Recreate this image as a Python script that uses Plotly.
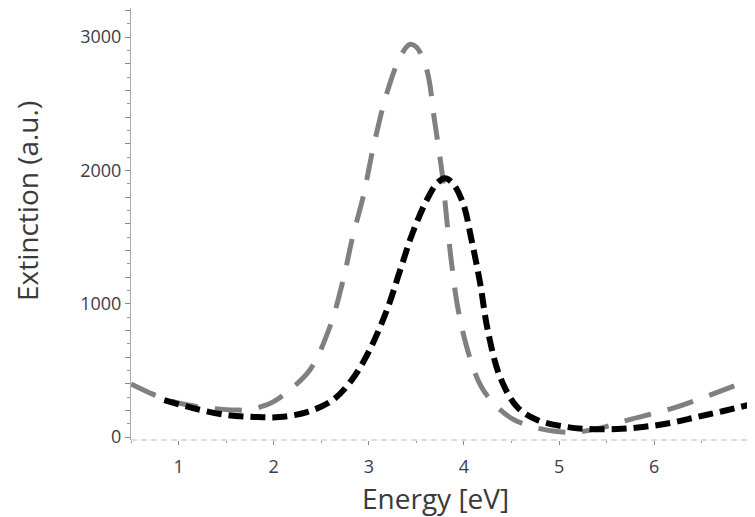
import plotly.graph_objects as go

# Data
black_x = [0.85, 1.15, 1.5, 1.8, 2.06, 2.35, 2.62, 2.82, 3.0, 3.19, 3.33, 3.46, 3.61, 3.72, 3.8,
           3.88, 3.99, 4.08, 4.17, 4.25, 4.38, 4.56, 4.77, 5.04, 5.3, 5.61, 5.88, 6.17, 6.45, 6.73, 7.06]
black_y = [277, 217, 165, 150, 150, 187, 277, 427, 640, 952, 1252, 1530, 1778, 1905, 1940,
           1905, 1755, 1478, 1155, 802, 450, 225, 128, 80, 60, 60, 75, 105, 150, 195, 252]

gray_x = [0.5, 0.7, 0.9, 1.1, 1.35, 1.6, 1.75, 1.9, 2.0, 2.14, 2.38, 2.59, 2.73, 2.83, 2.94, 3.05,
          3.19, 3.33, 3.43, 3.5, 3.61, 3.69, 3.77, 3.82, 3.87, 3.94, 4.06, 4.18, 4.31, 4.5, 4.73,
          5.0, 5.19, 5.45, 5.72, 6.2, 6.67, 7.06]
gray_y = [397, 330, 275, 240, 215, 202, 205, 235, 265, 337, 502, 825, 1177, 1500, 1800, 2180,
          2580, 2850, 2945, 2925, 2753, 2378, 1980, 1628, 1305, 952, 600, 380, 255, 140, 75,
          40, 37, 70, 127, 217, 337, 442]

y_tick_vals = list(range(0, 3201, 200))
y_tick_text = [str(v) if v % 1000 == 0 else "" for v in y_tick_vals]
x_tick_vals = [1, 2, 3, 4, 5, 6]
x_tick_text = ["1", "2", "3", "4", "5", "6"]

FONT = "Open Sans"
fig = go.Figure()
fig.add_trace(go.Scatter(x=gray_x, y=gray_y, mode="lines", line_shape="spline",
                         line=dict(color="#808080", width=5, dash="27px,17px"),
                         showlegend=False, hoverinfo="skip"))
fig.add_trace(go.Scatter(x=black_x, y=black_y, mode="lines", line_shape="spline",
                         line=dict(color="#000000", width=6, dash="15px,7px"),
                         showlegend=False, hoverinfo="skip"))

fig.update_layout(
    width=747, height=509,
    margin=dict(l=123, r=0, t=0, b=77),
    paper_bgcolor="white", plot_bgcolor="white",
    font=dict(family=FONT, color="#3c3c48"),
    xaxis=dict(range=[0.5, 7.06], showgrid=False, zeroline=False, showline=False,
               tickmode="array", tickvals=x_tick_vals, ticktext=x_tick_text,
               ticks="outside", ticklen=4, tickcolor="#888", tickwidth=1,
               tickfont=dict(size=18, family=FONT, color="#3c3c48"),
               ticklabelstandoff=6,
               minor=dict(tickmode="array", tickvals=[0.5, 1.5, 2.5, 3.5, 4.5, 5.5, 6.5],
                          ticks="outside", ticklen=2, tickcolor="#999")),
    yaxis=dict(range=[-22.5, 3217.5], showgrid=False, zeroline=False,
               showline=True, linecolor="#aaaaaa", linewidth=1,
               tickmode="array", tickvals=y_tick_vals, ticktext=y_tick_text,
               ticks="outside", ticklen=5, tickcolor="#888", tickwidth=1,
               tickfont=dict(size=18, family=FONT, color="#3c3c48"),
               minor=dict(dtick=100, tick0=0, ticks="outside", ticklen=3, tickcolor="#999")),
    shapes=[dict(type="line", xref="paper", yref="paper", x0=0, x1=1, y0=0, y1=0,
                 line=dict(color="#bbbbbb", width=1, dash="6px,4px"))],
    annotations=[
        dict(text="Energy [eV]", xref="paper", yref="paper", x=(427 - 123) / 624,
             y=(432 - 490) / 432, xanchor="center", yanchor="middle", showarrow=False,
             font=dict(size=28, family=FONT, color="#3a3a3a")),
        dict(text="Extinction (a.u.)", xref="paper", yref="paper", x=(19 - 123) / 624,
             y=(432 - 193) / 432, xanchor="center", yanchor="middle", showarrow=False,
             textangle=-90, font=dict(size=28, family=FONT, color="#3a3a3a")),
    ],
)

fig.write_html("out.html")
